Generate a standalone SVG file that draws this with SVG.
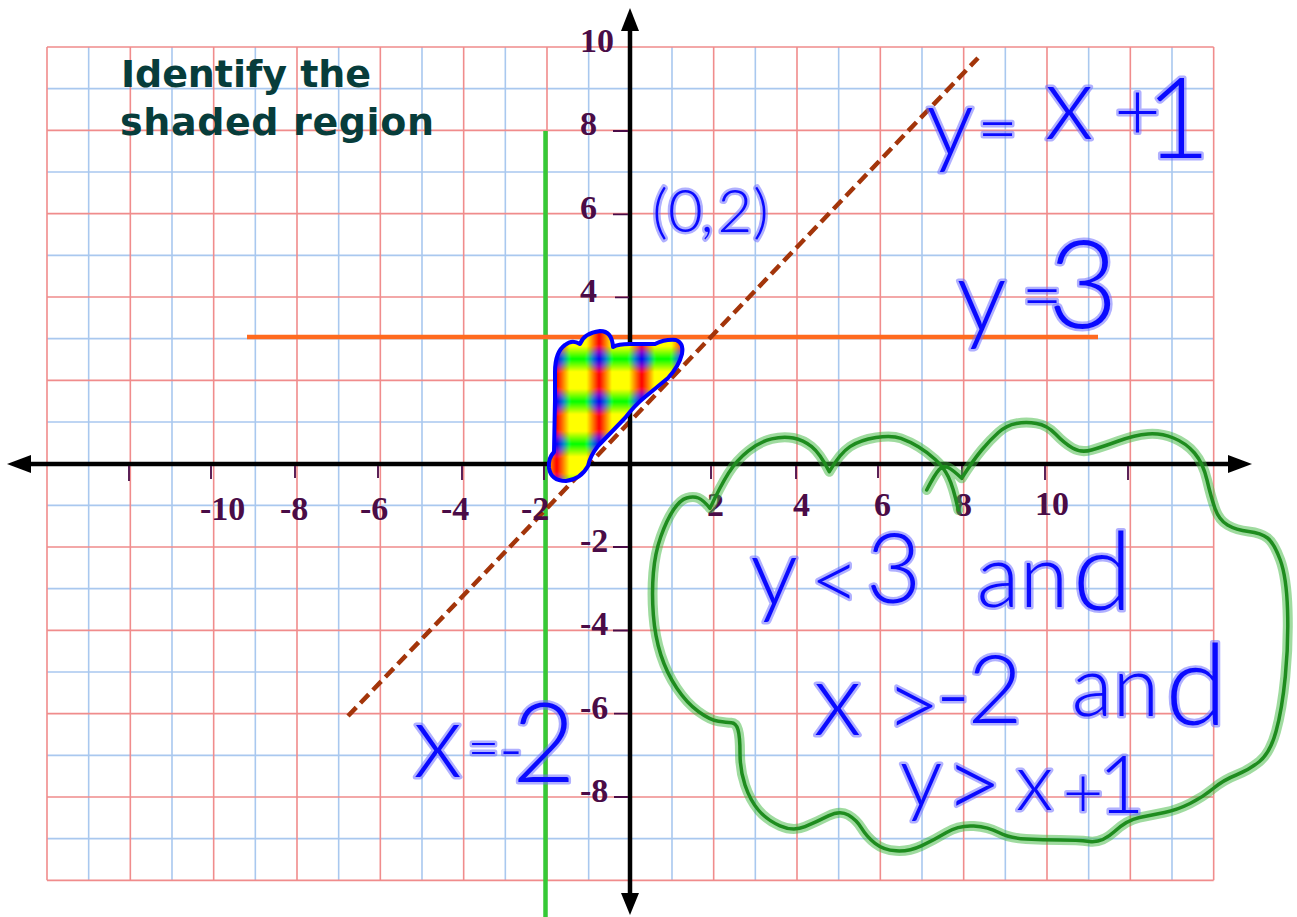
<svg xmlns="http://www.w3.org/2000/svg" width="1297" height="917" viewBox="0 0 1297 917">
<style>
.gb{stroke:#a9c8ef;stroke-width:1.6;fill:none}
.gr{stroke:#f08c8c;stroke-width:1.6;fill:none}
.ax{stroke:#000;stroke-width:4.5;fill:none}
.tk{stroke:#4a0c47;stroke-width:1.8;fill:none}
.lb{font-family:"Liberation Serif","Times New Roman",serif;font-weight:bold;font-size:34px;fill:#4a0c47}
.title{font-family:"DejaVu Sans",Verdana,sans-serif;font-weight:bold;fill:#073d3b}
.hw{font-family:Lato,"Open Sans","DejaVu Sans",sans-serif;font-weight:300;fill:#0a0aff;stroke:#6f6fff;stroke-opacity:.55;stroke-width:5;paint-order:stroke;stroke-linejoin:round;text-anchor:middle}
.cloudHalo{fill:none;stroke:#3fb83f;stroke-opacity:.5;stroke-width:10;stroke-linejoin:round;stroke-linecap:round}
.cloud{fill:none;stroke:#1e8c1e;stroke-width:3.5;stroke-linejoin:round;stroke-linecap:round}
.sc{mix-blend-mode:screen}
</style>
<defs>
<linearGradient id="gR" x1="0" y1="0" x2="0" y2="1">
<stop offset="0" stop-color="#000"/><stop offset="0.3" stop-color="#ff0000"/><stop offset="0.7" stop-color="#ff0000"/><stop offset="1" stop-color="#000"/>
</linearGradient>
<linearGradient id="gG" x1="0" y1="0" x2="1" y2="0">
<stop offset="0" stop-color="#000"/><stop offset="0.3" stop-color="#00ff00"/><stop offset="0.7" stop-color="#00ff00"/><stop offset="1" stop-color="#000"/>
</linearGradient>
<radialGradient id="gB" cx="0.5" cy="0.5" r="0.5">
<stop offset="0" stop-color="#0000ff"/><stop offset="0.5" stop-color="#0000c0"/><stop offset="1" stop-color="#000"/>
</radialGradient>
<pattern id="plaid" patternUnits="userSpaceOnUse" x="556.7" y="359" width="42.5" height="42.5">
<g style="isolation:isolate">
<rect width="42.5" height="42.5" fill="#000"/>
<rect width="42.5" height="42.5" fill="url(#gR)" class="sc"/>
<rect width="42.5" height="42.5" fill="url(#gG)" class="sc"/>
<circle cx="0" cy="0" r="15" fill="url(#gB)" class="sc"/>
<circle cx="42.5" cy="0" r="15" fill="url(#gB)" class="sc"/>
<circle cx="0" cy="42.5" r="15" fill="url(#gB)" class="sc"/>
<circle cx="42.5" cy="42.5" r="15" fill="url(#gB)" class="sc"/>
</g>
</pattern>
</defs>
<rect width="1297" height="917" fill="#fff"/>
<g id="grid">
<path class="gb" d="M88.67 47V880.33M172 47V880.33M255.33 47V880.33M338.67 47V880.33M422 47V880.33M505.33 47V880.33M588.67 47V880.33M672 47V880.33M755.33 47V880.33M838.67 47V880.33M922 47V880.33M1005.33 47V880.33M1088.67 47V880.33M1172 47V880.33M47 88.67H1213.67M47 172H1213.67M47 255.33H1213.67M47 338.67H1213.67M47 422H1213.67M47 505.33H1213.67M47 588.67H1213.67M47 672H1213.67M47 755.33H1213.67M47 838.67H1213.67"/>
<path class="gr" d="M47 47V880.33M130.33 47V880.33M213.67 47V880.33M297 47V880.33M380.33 47V880.33M463.67 47V880.33M547 47V880.33M630.33 47V880.33M713.67 47V880.33M797 47V880.33M880.33 47V880.33M963.67 47V880.33M1047 47V880.33M1130.33 47V880.33M1213.67 47V880.33M47 47H1213.67M47 130.33H1213.67M47 213.67H1213.67M47 297H1213.67M47 380.33H1213.67M47 463.67H1213.67M47 547H1213.67M47 630.33H1213.67M47 713.67H1213.67M47 797H1213.67M47 880.33H1213.67"/>
</g>
<g id="title">
<text class="title" x="121" y="87" font-size="38" textLength="250">Identify the</text>
<text class="title" x="120" y="135" font-size="38" textLength="314">shaded region</text>
</g>
<g id="connectors">
<line id="line-x-eq-neg2" x1="545.5" y1="131" x2="545.5" y2="917" stroke="#36c936" stroke-width="4.5"/>
<line id="line-y-eq-3" x1="247" y1="337" x2="1098" y2="337" stroke="#ff6a1f" stroke-width="4.5"/>
<line id="line-y-eq-x-plus-1" x1="348" y1="716" x2="978" y2="58" stroke="#a3350a" stroke-width="4.5" stroke-dasharray="12 6"/>
</g>
<g id="axes">
<line class="ax" x1="630" y1="28" x2="630" y2="897"/>
<line class="ax" x1="28" y1="464" x2="1232" y2="464"/>
<polygon points="630,8 639,31 621,31" fill="#000"/>
<polygon points="630,915 639,893 621,893" fill="#000"/>
<polygon points="7,464 31,455 31,473" fill="#000"/>
<polygon points="1252,464 1228,455 1228,473" fill="#000"/>
<path class="tk" d="M129 466V481M211 466V479M295 466V478M378 466V478M462 466V480M544 466V480M711 466V479M796 466V479M878 466V478M962 466V480M1045 466V480M1128 466V480M613 131H628M613 214.3H628M615 297.3H629M613 547H628M613 630.5H628M614 713.7H628M614 797H628"/>
<text class="lb" x="200" y="520">-10</text>
<text class="lb" x="280" y="520">-8</text>
<text class="lb" x="360" y="520">-6</text>
<text class="lb" x="441" y="520">-4</text>
<text class="lb" x="521" y="520">-2</text>
<text class="lb" x="707" y="516">2</text>
<text class="lb" x="793" y="516">4</text>
<text class="lb" x="874" y="516">6</text>
<text class="lb" x="955" y="516">8</text>
<text class="lb" x="1035" y="515">10</text>
<text class="lb" x="580" y="52">10</text>
<text class="lb" x="580" y="135">8</text>
<text class="lb" x="580" y="219">6</text>
<text class="lb" x="580" y="302">4</text>
<text class="lb" x="580" y="552">-2</text>
<text class="lb" x="580" y="635">-4</text>
<text class="lb" x="580" y="719">-6</text>
<text class="lb" x="580" y="802">-8</text>
</g>
<g id="shaded-region">
<path d="M555 400 L555 372 Q555 352 565 345 Q572 339 580 344 Q584 333 600 331 Q612 331 613 347 Q618 344 630 344 L655 344 Q665 339 676 340 Q684 343 682 354 Q679 366 668 378 L645 397 Q635 405 625 418 L598 446 Q590 456 588 466 Q581 479 566 481 Q551 481 549 468 Q548 458 554 452 Z" fill="url(#plaid)" stroke="#0000ff" stroke-width="4" stroke-linejoin="round"/>
</g>
<g id="note-cloud">
<path class="cloudHalo" d="M926.7 490 Q935 474 939.2 469.5 Q943.3 465 948.2 467.5 Q953 470 961.7 478.3 Q973.3 460 981.7 450 Q990 440 998.4 432.5 Q1006.7 425 1016.4 423.4 Q1026 421.7 1036.5 423.4 Q1047 425 1055.5 434 Q1064 443 1072.5 448 Q1081 453 1091.5 450 Q1102 447 1118.5 441 Q1135 435 1148 434 Q1161 433 1173.5 438 Q1186 443 1194.5 453 Q1203 463 1207 480 Q1211 497 1215 508.5 Q1219 520 1227.5 525 Q1236 530 1248.5 531.5 Q1261 533 1267.5 538 Q1274 543 1280.25 560 Q1286.5 577 1287.55 610 Q1288.6 643 1285.3 676.5 Q1282 710 1276 731.5 Q1270 753 1259.5 761.5 Q1249 770 1236.25 775 Q1223.5 780 1213.25 788.5 Q1203 797 1190 803.5 Q1177 810 1164.5 812.5 Q1152 815 1139.5 817.5 Q1127 820 1114.5 831.5 Q1102 843 1089.5 841.5 Q1077 840 1060 840 Q1043 840 1026 839 Q1009 838 998.75 832.5 Q988.5 827 973.75 826 Q959 825 946.5 832.5 Q934 840 921.35 845.85 Q908.7 851.7 896.1 850.85 Q883.5 850 875.1 843.35 Q866.7 836.7 861.7 828.35 Q856.7 820 848.35 815 Q840 810 828.35 815.85 Q816.7 821.7 805 826.7 Q793.3 831.7 780 825.85 Q766.7 820 758.35 810 Q750 800 745 785 Q740 770 740 753.35 Q740 736.7 738 729.85 Q736 723 731.35 722.85 Q726.7 722.7 718.35 721.35 Q710 720 698.35 711.5 Q686.7 703 676.7 688 Q666.7 673 660.85 654.85 Q655 636.7 653.35 614.85 Q651.7 593 653.35 573 Q655 553 660.85 536.5 Q666.7 520 673.35 510 Q680 500 686.65 498 Q693.3 496 698.3 498 Q703.3 500 710 508.3 Q720 486.7 728.35 473.35 Q736.7 460 748.35 450.85 Q760 441.7 771.65 438.85 Q783.3 436 793.3 438 Q803.3 440 811.65 446.65 Q820 453.3 829.3 471.7 Q840 453.3 850 446.65 Q860 440 875.95 437.5 Q891.9 435 900.95 438.35 Q910 441.7 918.35 446.7 Q926.7 451.7 935 459.2 Q943.3 466.7 948.3 476.7 Q953.3 486.7 958.3 510"/>
<path class="cloud" d="M926.7 490 Q935 474 939.2 469.5 Q943.3 465 948.2 467.5 Q953 470 961.7 478.3 Q973.3 460 981.7 450 Q990 440 998.4 432.5 Q1006.7 425 1016.4 423.4 Q1026 421.7 1036.5 423.4 Q1047 425 1055.5 434 Q1064 443 1072.5 448 Q1081 453 1091.5 450 Q1102 447 1118.5 441 Q1135 435 1148 434 Q1161 433 1173.5 438 Q1186 443 1194.5 453 Q1203 463 1207 480 Q1211 497 1215 508.5 Q1219 520 1227.5 525 Q1236 530 1248.5 531.5 Q1261 533 1267.5 538 Q1274 543 1280.25 560 Q1286.5 577 1287.55 610 Q1288.6 643 1285.3 676.5 Q1282 710 1276 731.5 Q1270 753 1259.5 761.5 Q1249 770 1236.25 775 Q1223.5 780 1213.25 788.5 Q1203 797 1190 803.5 Q1177 810 1164.5 812.5 Q1152 815 1139.5 817.5 Q1127 820 1114.5 831.5 Q1102 843 1089.5 841.5 Q1077 840 1060 840 Q1043 840 1026 839 Q1009 838 998.75 832.5 Q988.5 827 973.75 826 Q959 825 946.5 832.5 Q934 840 921.35 845.85 Q908.7 851.7 896.1 850.85 Q883.5 850 875.1 843.35 Q866.7 836.7 861.7 828.35 Q856.7 820 848.35 815 Q840 810 828.35 815.85 Q816.7 821.7 805 826.7 Q793.3 831.7 780 825.85 Q766.7 820 758.35 810 Q750 800 745 785 Q740 770 740 753.35 Q740 736.7 738 729.85 Q736 723 731.35 722.85 Q726.7 722.7 718.35 721.35 Q710 720 698.35 711.5 Q686.7 703 676.7 688 Q666.7 673 660.85 654.85 Q655 636.7 653.35 614.85 Q651.7 593 653.35 573 Q655 553 660.85 536.5 Q666.7 520 673.35 510 Q680 500 686.65 498 Q693.3 496 698.3 498 Q703.3 500 710 508.3 Q720 486.7 728.35 473.35 Q736.7 460 748.35 450.85 Q760 441.7 771.65 438.85 Q783.3 436 793.3 438 Q803.3 440 811.65 446.65 Q820 453.3 829.3 471.7 Q840 453.3 850 446.65 Q860 440 875.95 437.5 Q891.9 435 900.95 438.35 Q910 441.7 918.35 446.7 Q926.7 451.7 935 459.2 Q943.3 466.7 948.3 476.7 Q953.3 486.7 958.3 510"/>
</g>
<g id="labels">
<text id="label-point" class="hw" font-size="60" font-weight="400" x="660 685.5 707 735 761" y="232">(0,2)</text>
<text id="label-line1" class="hw"><tspan x="950" y="155" font-size="95">y</tspan><tspan x="997.5" y="153" font-size="70">=</tspan><tspan x="1069" y="139" font-size="105">x</tspan><tspan x="1137.5" y="140" font-size="80">+</tspan><tspan x="1178" y="158" font-size="112">1</tspan></text>
<text id="label-line2" class="hw"><tspan x="981.5" y="331" font-size="100">y</tspan><tspan x="1042" y="320" font-size="70">=</tspan><tspan x="1083" y="328" font-size="122">3</tspan></text>
<text id="label-line3" class="hw"><tspan x="437.5" y="777" font-size="105">x</tspan><tspan x="483.5" y="767" font-size="55">=</tspan><tspan x="511" y="772" font-size="65">-</tspan><tspan x="544" y="782" font-size="110">2</tspan></text>
<text id="answer-1" class="hw"><tspan x="774" y="605" font-size="95">y</tspan><tspan x="835" y="610" font-size="85">&lt;</tspan><tspan x="906.5" y="603" font-size="96">3 </tspan><tspan x="998 1044" y="607" font-size="89">an</tspan><tspan x="1102.5" y="610" font-size="108">d</tspan></text>
<text id="answer-2" class="hw"><tspan x="837.5" y="735" font-size="103">x</tspan><tspan x="913" y="738" font-size="95">&gt;</tspan><tspan x="953" y="727" font-size="95">-</tspan><tspan x="1008" y="723" font-size="95">2 </tspan><tspan x="1092 1136" y="716" font-size="85">an</tspan><tspan x="1196" y="725" font-size="112">d</tspan></text>
<text id="answer-3" class="hw"><tspan x="921" y="806" font-size="85">y</tspan><tspan x="973.5" y="819" font-size="100">&gt;</tspan><tspan x="1034.5" y="810" font-size="80">x</tspan><tspan x="1083" y="818" font-size="70">+</tspan><tspan x="1121.5" y="813" font-size="80">1</tspan></text>
</g>
</svg>
